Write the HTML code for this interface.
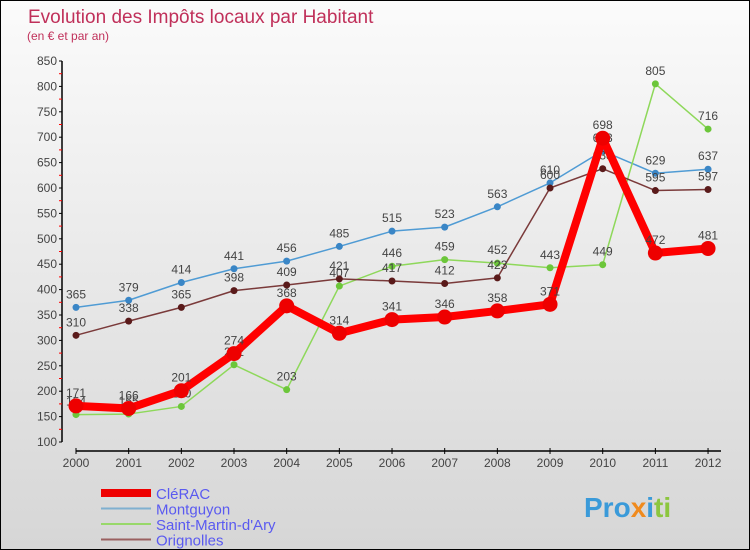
<!DOCTYPE html>
<html><head><meta charset="utf-8"><style>
body{margin:0;}
#c{width:750px;height:550px;position:relative;background:linear-gradient(#fbfbfb,#d6d6d6);border:1px solid #000;box-sizing:border-box;overflow:hidden;font-family:"Liberation Sans",sans-serif;}
svg{position:absolute;left:0;top:0;}
</style></head><body>
<div id="c">
<svg id="s" width="750" height="550">
<text x="27" y="22" font-size="19" fill="#c0305a">Evolution des Impôts locaux par Habitant</text>
<text x="26" y="39" font-size="12" fill="#c0305a">(en € et par an)</text>
<text x="583" y="516" font-size="28" font-weight="bold" fill="#3a9ad9">Pro<tspan fill="#f08a1d">x</tspan>i<tspan fill="#8cc63f">ti</tspan></text>
</svg></div>
<script>
const years=[2000,2001,2002,2003,2004,2005,2006,2007,2008,2009,2010,2011,2012];
const yTicks=[100,150,200,250,300,350,400,450,500,550,600,650,700,750,800,850];
const names=["CléRAC","Montguyon","Saint-Martin-d'Ary","Orignolles"];
const clerac=[171,166,201,274,368,314,341,346,358,371,698,472,481];
const montguyon=[365,379,414,441,456,485,515,523,563,610,673,629,637];
const stmartin=[154,155,170,252,203,407,446,459,452,443,449,805,716];
const orignolles=[310,338,365,398,409,421,417,412,423,600,638,595,597];
const NS="http://www.w3.org/2000/svg",s=document.getElementById('s');
const X=i=>75+i*52.67, Y=v=>441-(v-100)*381/750;
function el(t,a,p){const e=document.createElementNS(NS,t);for(const k in a)e.setAttribute(k,a[k]);(p||s).appendChild(e);return e;}
// axes
const ax=el('line',{x1:61,y1:60,x2:61,y2:441,stroke:'#000','stroke-width':1.5});


const xx=el('line',{x1:75,y1:450,x2:720,y2:450,stroke:'#000','stroke-width':1.5});


yTicks.forEach(v=>{el('line',{x1:58,x2:61,y1:Y(v),y2:Y(v),stroke:'#000'});
if(v<850)el('line',{x1:58,x2:61,y1:Y(v+25),y2:Y(v+25),stroke:'red'});
const t=el('text',{x:56,y:Y(v)+4,'font-size':12,fill:'#444','text-anchor':'end'});t.textContent=v;

});
years.forEach((y,i)=>{el('line',{x1:X(i),x2:X(i),y1:447,y2:453,stroke:'#000'});
const t=el('text',{x:X(i),y:466,'font-size':12,fill:'#444','text-anchor':'middle'});t.textContent=y;

});
const series=[[montguyon,'#4f9bd4',1.5,3.5,'#3a86c6'],[stmartin,'#8ed85a',1.5,3.5,'#6cc63a'],[orignolles,'#7a3a3a',1.5,3.5,'#5a1a1a'],[clerac,'#ff0000',8,7.5,'#ee0000']];
const sn=['montguyon','saint-martin','orignolles','clerac'];
series.forEach(([d,c,w,r,mc],k)=>{
const p=el('polyline',{points:d.map((v,i)=>X(i)+','+Y(v)).join(' '),fill:'none',stroke:c,'stroke-width':w,'stroke-linejoin':'round'});


d.forEach((v,i)=>{const m=el('circle',{cx:X(i),cy:Y(v),r:r,fill:mc});


const t=el('text',{x:X(i),y:Y(v)-9,'font-size':12,fill:'#444','text-anchor':'middle'});t.textContent=v;

});});
const lc=[['#ee0000',8],['#7fb0d0',2],['#98d86a',2],['#9a6060',2]];
names.forEach((n,i)=>{const y=492+i*15.5;
const l=el('line',{x1:100,x2:150,y1:y,y2:y,stroke:lc[i][0],'stroke-width':lc[i][1]});


const t=el('text',{x:155,y:y+6,'font-size':15,fill:'#5a5af0'});t.textContent=n;

});
</script>
</body></html>
